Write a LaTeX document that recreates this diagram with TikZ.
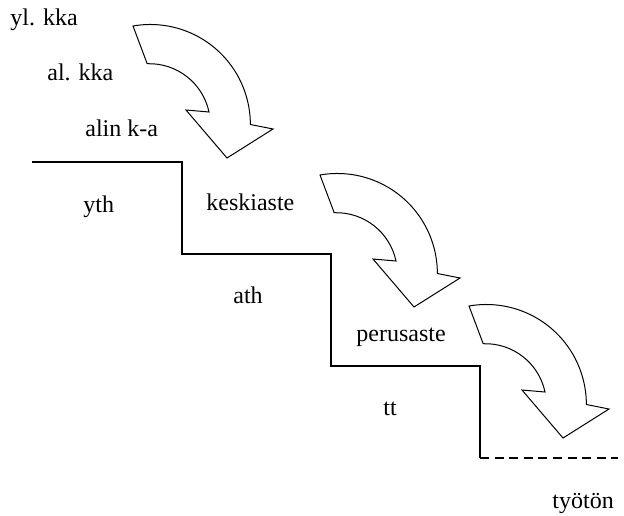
\documentclass[tikz,border=0pt]{standalone}
\usepackage{fontspec}
\setmainfont{Liberation Serif}
\usetikzlibrary{positioning}

\begin{document}
\begin{tikzpicture}[x=0.5pt, y=-0.5pt, font=\fontsize{12}{14}\selectfont,
  lab/.style={anchor=base west, inner sep=0pt},
  stair/.style={line width=0.8pt},
  turnarrow/.pic={
    \draw[line width=0.5pt, line join=miter]
      (0,0) arc (260:360:100) -- (140,103) -- (94,132) -- (53,84)
      -- (76,86) arc (348:268:61) -- cycle;
  }]
  \useasboundingbox (0,0) rectangle (624,515);
  \foreach \x/\y/\t/\n in {10/25/yl. kka/ylkka, 47/80/al. kka/alkka,
      85/136/alin k-a/alinka, 83/212/yth/yth, 206/210/keskiaste/keski,
      233/303/ath/ath, 356/341/perusaste/perus, 383/415/tt/tt,
      552/508/työtön/tyoton}
    \node[lab] (\n) at (\x,\y) {\t};
  \foreach \x/\y in {133/26, 320/175, 469/306}
    \pic at (\x,\y) {turnarrow};
  \coordinate (s0) at (32,162);
  \coordinate (s1) at (182,254);
  \coordinate (s2) at (331,366);
  \coordinate (s3) at (480,458);
  \coordinate (send) at (618,458);
  \draw[stair] (s0) -| (s1) -| (s2) -| (s3);
  \draw[stair, dash pattern=on 4.5pt off 2.8pt] (s3) -- (send);
\end{tikzpicture}
\end{document}
